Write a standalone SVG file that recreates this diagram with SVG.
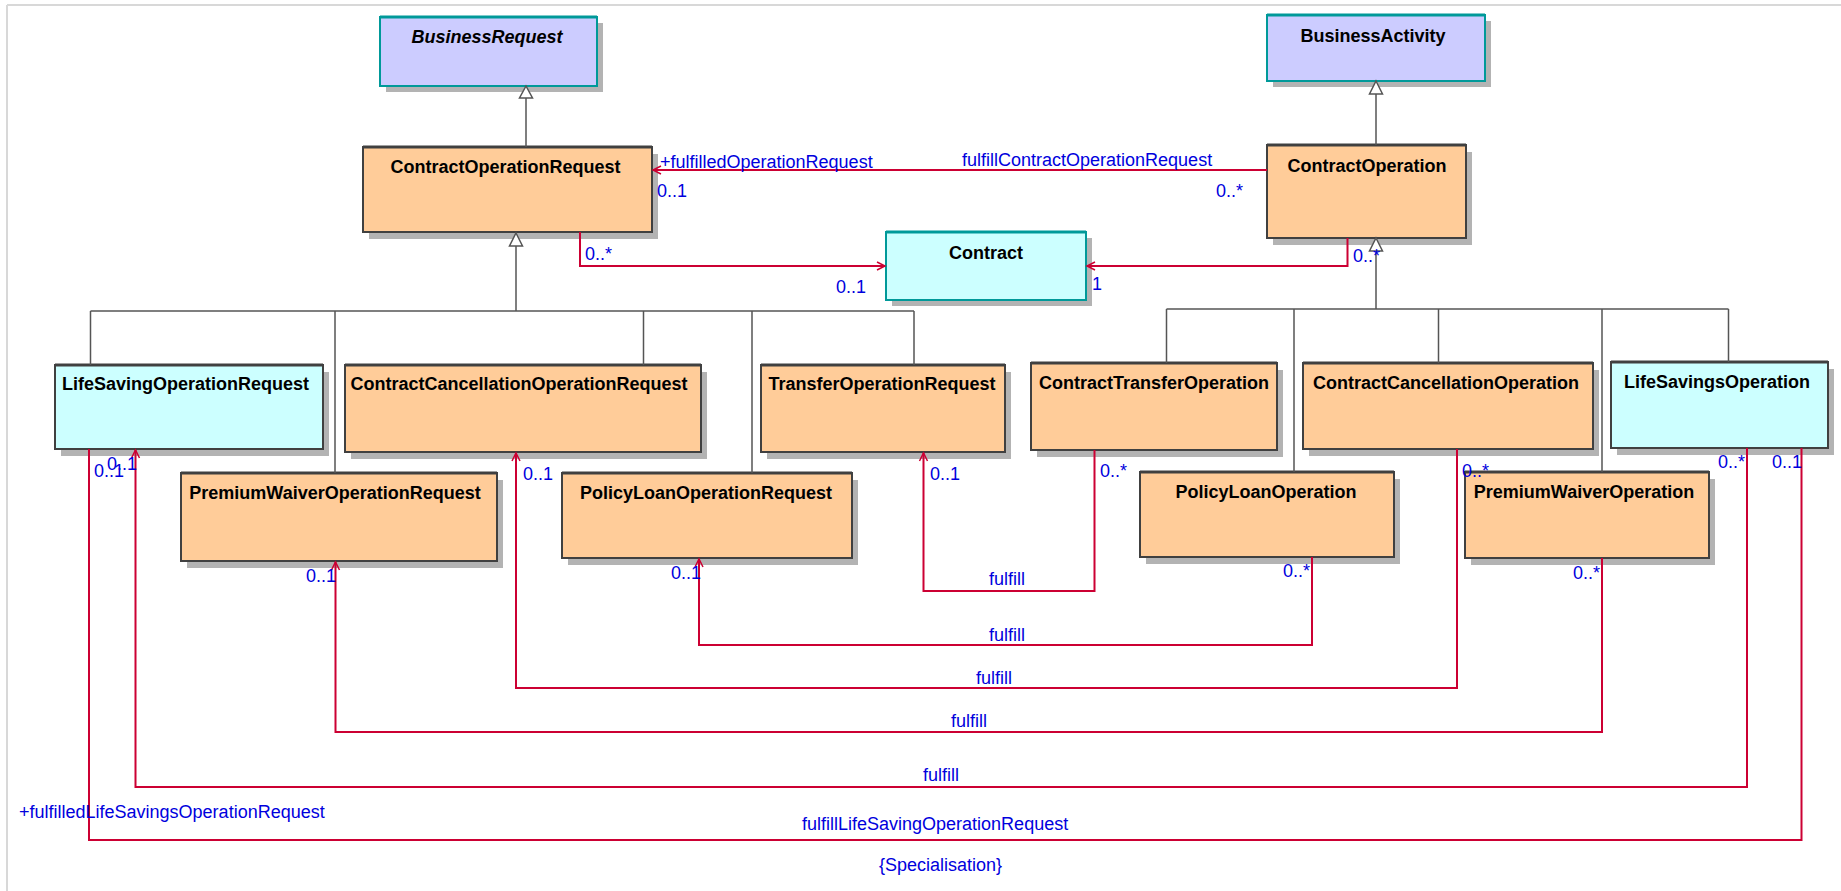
<svg xmlns="http://www.w3.org/2000/svg" width="1841" height="891" viewBox="0 0 1841 891">
<style>
.sh{fill:#b3b3b3}
.o{fill:#FFCC99;stroke:#404040;stroke-width:2}
.c{fill:#CCFFFF;stroke:#404040;stroke-width:2}
.ct{fill:#CCFFFF;stroke:#009999;stroke-width:2}
.p{fill:#CCCCFF;stroke:#009999;stroke-width:2}
.tk{stroke:#404040;stroke-width:3}
.tt{stroke:#009999;stroke-width:3}
.n{font-family:"Liberation Sans",Arial,sans-serif;font-size:18px;font-weight:bold;fill:#000;text-anchor:middle}
.i{font-style:italic}
.l{font-family:"Liberation Sans",Arial,sans-serif;font-size:18px;fill:#0000DD}
.a{fill:none;stroke:#CC0033;stroke-width:2}
.g{fill:none;stroke:#555;stroke-width:1.5}
.tri{fill:#fff;stroke:#555;stroke-width:1.5}
</style>
<defs>
<marker id="arr" markerUnits="userSpaceOnUse" markerWidth="12" markerHeight="12" refX="10" refY="6" orient="auto">
<path d="M2,2 L10,6 L2,10" fill="none" stroke="#CC0033" stroke-width="1.5"/>
</marker>
</defs>
<rect width="1841" height="891" fill="#fff"/>
<path d="M7,5 H1841 M7,5 V891" fill="none" stroke="#d8d8d8" stroke-width="2"/>

<g id="BusinessRequest">
<rect class="sh" x="386" y="23" width="217" height="69"/>
<rect class="p" x="380" y="17" width="217" height="69"/>
<line class="tt" x1="380" y1="17" x2="597" y2="17"/>
<text class="n i" x="487" y="43">BusinessRequest</text>
</g>
<g id="BusinessActivity">
<rect class="sh" x="1273" y="21" width="218" height="66"/>
<rect class="p" x="1267" y="15" width="218" height="66"/>
<line class="tt" x1="1267" y1="15" x2="1485" y2="15"/>
<text class="n" x="1373" y="42">BusinessActivity</text>
</g>
<g id="ContractOperationRequest">
<rect class="sh" x="369" y="154" width="289" height="85"/>
<rect class="o" x="363" y="147" width="289" height="85"/>
<line class="tk" x1="363" y1="147" x2="652" y2="147"/>
<text class="n" x="505.5" y="173">ContractOperationRequest</text>
</g>
<g id="ContractOperation">
<rect class="sh" x="1273" y="152" width="199" height="93"/>
<rect class="o" x="1267" y="145" width="199" height="93"/>
<line class="tk" x1="1267" y1="145" x2="1466" y2="145"/>
<text class="n" x="1367" y="172">ContractOperation</text>
</g>
<g id="Contract">
<rect class="sh" x="892" y="238" width="200" height="68"/>
<rect class="ct" x="886" y="232" width="200" height="68"/>
<line class="tt" x1="886" y1="232" x2="1086" y2="232"/>
<text class="n" x="986" y="259">Contract</text>
</g>
<g id="LifeSavingOperationRequest">
<rect class="sh" x="61" y="372" width="268" height="84"/>
<rect class="c" x="55" y="365" width="268" height="84"/>
<line class="tk" x1="55" y1="365" x2="323" y2="365"/>
<text class="n" x="185.5" y="390">LifeSavingOperationRequest</text>
</g>
<g id="ContractCancellationOperationRequest">
<rect class="sh" x="351" y="372" width="356" height="87"/>
<rect class="o" x="345" y="365" width="356" height="87"/>
<line class="tk" x1="345" y1="365" x2="701" y2="365"/>
<text class="n" x="519" y="390">ContractCancellationOperationRequest</text>
</g>
<g id="TransferOperationRequest">
<rect class="sh" x="767" y="372" width="244" height="87"/>
<rect class="o" x="761" y="365" width="244" height="87"/>
<line class="tk" x1="761" y1="365" x2="1005" y2="365"/>
<text class="n" x="882" y="390">TransferOperationRequest</text>
</g>
<g id="PremiumWaiverOperationRequest">
<rect class="sh" x="187" y="480" width="316" height="88"/>
<rect class="o" x="181" y="473" width="316" height="88"/>
<line class="tk" x1="181" y1="473" x2="497" y2="473"/>
<text class="n" x="335" y="499">PremiumWaiverOperationRequest</text>
</g>
<g id="PolicyLoanOperationRequest">
<rect class="sh" x="568" y="480" width="290" height="85"/>
<rect class="o" x="562" y="473" width="290" height="85"/>
<line class="tk" x1="562" y1="473" x2="852" y2="473"/>
<text class="n" x="706" y="499">PolicyLoanOperationRequest</text>
</g>
<g id="ContractTransferOperation">
<rect class="sh" x="1037" y="370" width="246" height="87"/>
<rect class="o" x="1031" y="363" width="246" height="87"/>
<line class="tk" x1="1031" y1="363" x2="1277" y2="363"/>
<text class="n" x="1154" y="389">ContractTransferOperation</text>
</g>
<g id="ContractCancellationOperation">
<rect class="sh" x="1309" y="370" width="290" height="86"/>
<rect class="o" x="1303" y="363" width="290" height="86"/>
<line class="tk" x1="1303" y1="363" x2="1593" y2="363"/>
<text class="n" x="1446" y="389">ContractCancellationOperation</text>
</g>
<g id="LifeSavingsOperation">
<rect class="sh" x="1617" y="369" width="217" height="86"/>
<rect class="c" x="1611" y="362" width="217" height="86"/>
<line class="tk" x1="1611" y1="362" x2="1828" y2="362"/>
<text class="n" x="1717" y="388">LifeSavingsOperation</text>
</g>
<g id="PolicyLoanOperation">
<rect class="sh" x="1146" y="479" width="254" height="85"/>
<rect class="o" x="1140" y="472" width="254" height="85"/>
<line class="tk" x1="1140" y1="472" x2="1394" y2="472"/>
<text class="n" x="1266" y="498">PolicyLoanOperation</text>
</g>
<g id="PremiumWaiverOperation">
<rect class="sh" x="1471" y="479" width="244" height="86"/>
<rect class="o" x="1465" y="472" width="244" height="86"/>
<line class="tk" x1="1465" y1="472" x2="1709" y2="472"/>
<text class="n" x="1584" y="498">PremiumWaiverOperation</text>
</g>

<g id="connectors">
<!-- generalisations -->
<path class="g" d="M526,147 V98"/>
<path class="tri" d="M526,86 L532.5,98 H519.5 Z"/>
<path class="g" d="M1376,145 V94"/>
<path class="tri" d="M1376,81 L1382.5,94 H1369.5 Z"/>
<path class="g" d="M516,246 V311 M90.5,311 H914 M90.5,311 V365 M335,311 V473 M643.5,311 V365 M752,311 V473 M914,311 V365"/>
<path class="tri" d="M516,233 L522.5,246 H509.5 Z"/>
<path class="g" d="M1376,251 V309 M1166.5,309 H1728.5 M1166.5,309 V363 M1294,309 V472 M1438.5,309 V363 M1602,309 V472 M1728.5,309 V362"/>
<path class="tri" d="M1376,238 L1382.5,251 H1369.5 Z"/>
<!-- associations -->
<path class="a" d="M1267,170 H653" marker-end="url(#arr)"/>
<text class="l" x="962" y="166">fulfillContractOperationRequest</text>
<text class="l" x="1216" y="197">0..*</text>
<text class="l" x="660" y="168">+fulfilledOperationRequest</text>
<text class="l" x="657" y="197">0..1</text>

<path class="a" d="M580,232 V266 H885" marker-end="url(#arr)"/>
<text class="l" x="585" y="260">0..*</text>
<text class="l" x="836" y="293">0..1</text>

<path class="a" d="M1347.5,238 V266 H1087" marker-end="url(#arr)"/>
<text class="l" x="1353" y="262">0..*</text>
<text class="l" x="1092" y="290">1</text>

<path class="a" d="M1094.5,450 V591 H923.5 V453" marker-end="url(#arr)"/>
<text class="l" x="1100" y="477">0..*</text>
<text class="l" x="930" y="480">0..1</text>
<text class="l" x="989" y="585">fulfill</text>

<path class="a" d="M1312,557 V645 H699 V559" marker-end="url(#arr)"/>
<text class="l" x="1283" y="577">0..*</text>
<text class="l" x="671" y="579">0..1</text>
<text class="l" x="989" y="641">fulfill</text>

<path class="a" d="M1457,449 V688 H516 V453" marker-end="url(#arr)"/>
<text class="l" x="1462" y="477">0..*</text>
<text class="l" x="523" y="480">0..1</text>
<text class="l" x="976" y="684">fulfill</text>

<path class="a" d="M1602,558 V732 H335.5 V562" marker-end="url(#arr)"/>
<text class="l" x="1573" y="579">0..*</text>
<text class="l" x="306" y="582">0..1</text>
<text class="l" x="951" y="727">fulfill</text>

<path class="a" d="M1747,448 V787 H135.5 V450" marker-end="url(#arr)"/>
<text class="l" x="1718" y="468">0..*</text>
<text class="l" x="107" y="470">0..1</text>
<text class="l" x="923" y="781">fulfill</text>

<path class="a" d="M1801.5,448 V840 H89 V449"/>
<text class="l" x="1772" y="468">0..1</text>
<text class="l" x="94" y="477">0..1</text>
<text class="l" x="19" y="818">+fulfilledLifeSavingsOperationRequest</text>
<text class="l" x="802" y="830">fulfillLifeSavingOperationRequest</text>
<text class="l" x="879" y="871">{Specialisation}</text>
</g>
</svg>
